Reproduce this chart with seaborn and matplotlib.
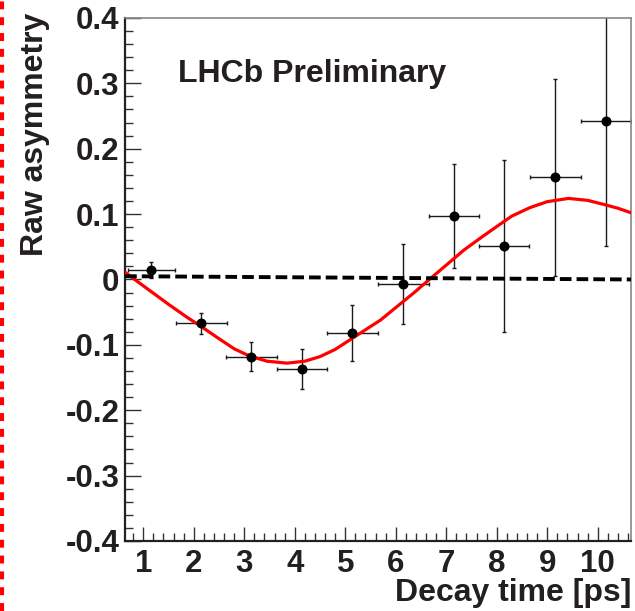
import matplotlib
matplotlib.use("Agg")
import matplotlib.pyplot as plt
from matplotlib.lines import Line2D
from matplotlib.ticker import FixedLocator, MultipleLocator
import pandas as pd
import seaborn as sns

# binned raw asymmetry vs decay time
time = [1.16, 2.15, 3.14, 4.14, 5.14, 6.15, 7.15, 8.14, 9.16, 10.16]
time_err = [0.47, 0.5, 0.5, 0.5, 0.5, 0.5, 0.5, 0.5, 0.5, 0.5]
asym = [0.014, -0.067, -0.118, -0.137, -0.082, -0.007, 0.097, 0.051, 0.156, 0.243]
asym_err = [0.012, 0.016, 0.022, 0.031, 0.043, 0.061, 0.080, 0.131, 0.151, 0.192]

# fitted oscillation
fit_time = [0.64, 0.90, 1.20, 1.50, 1.87, 2.13, 2.45, 2.80, 3.10, 3.45, 3.85,
            4.20, 4.50, 4.80, 5.10, 5.40, 5.70, 6.00, 6.35, 6.68, 7.00, 7.35,
            7.67, 8.00, 8.30, 8.66, 9.00, 9.42, 9.80, 10.11, 10.40, 10.66]
fit_asym = [0.011, -0.004, -0.021, -0.038, -0.058, -0.071, -0.088, -0.106,
            -0.117, -0.125, -0.128, -0.125, -0.118, -0.107, -0.092, -0.077,
            -0.062, -0.043, -0.021, 0.001, 0.022, 0.045, 0.063, 0.081, 0.097,
            0.110, 0.119, 0.124, 0.121, 0.115, 0.109, 0.102]

# no-asymmetry reference line
flat_time = [0.64, 10.66]
flat_asym = [0.005, 0.0]

xticks = [1, 2, 3, 4, 5, 6, 7, 8, 9, 10]
yticks = [-0.4, -0.3, -0.2, -0.1, 0, 0.1, 0.2, 0.3, 0.4]
ytick_labels = ["-0.4", "-0.3", "-0.2", "-0.1", "0", "0.1", "0.2", "0.3", "0.4"]

points = pd.DataFrame({"time": time, "asym": asym})
fit = pd.DataFrame({"time": fit_time, "asym": fit_asym})
flat = pd.DataFrame({"time": flat_time, "asym": flat_asym})

sns.set_theme(style="ticks")
plt.rcParams["font.family"] = ["Liberation Sans", "DejaVu Sans"]
plt.rcParams["axes.unicode_minus"] = False

ink = "#231f20"
fig = plt.figure(figsize=(6.35, 6.11), dpi=100)
ax = fig.add_axes([0.197, 0.1146, 0.7968, 0.856])

ax.errorbar(time, asym, xerr=time_err, yerr=asym_err, fmt="none",
            ecolor="#1a1a1a", elinewidth=1.0, capsize=1.6, capthick=1.0, zorder=2)
sns.lineplot(data=fit, x="time", y="asym", ax=ax, color="#ff0000", lw=2.3,
             sort=False, estimator=None, zorder=3)
sns.lineplot(data=flat, x="time", y="asym", ax=ax, color="black", lw=2.8,
             estimator=None, zorder=4)
ax.lines[-1].set_dashes((3.0, 1.3))
sns.scatterplot(data=points, x="time", y="asym", ax=ax, color="black", s=52,
                linewidth=0, zorder=5)

ax.set_xlim(0.64, 10.66)
ax.set_ylim(-0.4, 0.4)

ax.xaxis.set_major_locator(FixedLocator(xticks))
ax.xaxis.set_minor_locator(MultipleLocator(0.2))
ax.yaxis.set_major_locator(FixedLocator(yticks))
ax.set_yticklabels(ytick_labels)
ax.yaxis.set_minor_locator(MultipleLocator(0.02))

ax.tick_params(axis="both", which="both", direction="in", colors="#333333",
               labelcolor=ink, top=False, right=False)
ax.tick_params(axis="x", which="major", length=10, width=1.0, pad=6, labelsize=22.5)
ax.tick_params(axis="x", which="minor", length=5.5, width=1.0)
ax.tick_params(axis="y", which="major", length=11.5, width=1.0, pad=4, labelsize=22.5)
ax.tick_params(axis="y", which="minor", length=5.8, width=1.0)
for lab in ax.get_xticklabels() + ax.get_yticklabels():
    lab.set_fontweight("bold")

for side in ["left", "bottom"]:
    ax.spines[side].set_color("#222222")
    ax.spines[side].set_linewidth(1.6)
for side in ["top", "right"]:
    ax.spines[side].set_color("#888888")
    ax.spines[side].set_linewidth(1.2)

ax.set_xlabel("Decay time [ps]", fontsize=23, fontweight="bold", color=ink, loc="right")
ax.xaxis.set_label_coords(1.0, -0.07)
ax.set_ylabel("Raw asymmetry", fontsize=23, fontweight="bold", color=ink, loc="top")
ax.yaxis.set_label_coords(-0.149, 1.01)

ax.text(0.105, 0.878, "LHCb Preliminary", transform=ax.transAxes, fontsize=23,
        fontweight="bold", color=ink, va="baseline", ha="left")

# red dotted frame on the left edge of the slide
fig.add_artist(Line2D([2 / 635, 2 / 635], [0, 1], transform=fig.transFigure,
                      color="#ff0000", lw=3.0, linestyle=(0, (1.9, 1.9))))

fig.savefig("out.png", dpi=100)
